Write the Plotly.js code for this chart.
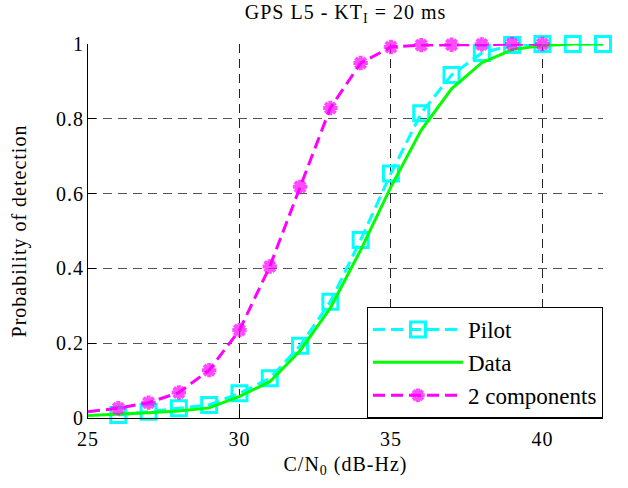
<!DOCTYPE html>
<html>
<head>
<meta charset="utf-8">
<script src="https://cdn.plot.ly/plotly-3.0.1.min.js"></script>
<style>
html,body{margin:0;padding:0;background:#fff}
#chart{width:628px;height:488px}
#chart svg text, #chart svg tspan{font-family:"Liberation Serif" !important}
#chart svg text:not(.legendtext){letter-spacing:1px}
</style>
</head>
<body>
<div id="chart"></div>
<script>
// C/N0 values (dB-Hz)
const xPilot = [26,27,28,29,30,31,32,33,34,35,36,37,38,39,40,41,42];
const pilot  = [0.008,0.017,0.026,0.035,0.066,0.106,0.193,0.311,0.476,0.654,0.815,0.917,0.976,0.997,1,1,1];

const xData = [25,26,27,28,29,30,31,32,33,34,35,36,37,38,39,40,41,42];
const dataComp = [0.007,0.010,0.014,0.019,0.027,0.058,0.097,0.180,0.294,0.449,0.618,0.770,0.880,0.950,0.985,0.996,1,1];

const xBoth = [25,26,27,28,29,30,31,32,33,34,35,36,37,38,39,40];
const both  = [0.017,0.026,0.041,0.068,0.128,0.235,0.405,0.618,0.829,0.949,0.992,0.997,0.998,0.999,1,1];

const seriesNames = ['Pilot','Data','2 components'];
const xTicks = [25,30,35,40];
const yTicks = [0,0.2,0.4,0.6,0.8,1];

const FONT = 'Liberation Serif';
const FS = 20;

const traces = [
  {
    x: xPilot, y: pilot, name: seriesNames[0], legendgroup: 'g1', type: 'scatter', mode: 'lines+markers',
    line: {color: '#00ffff', width: 3, dash: '12px,6px'},
    marker: {symbol: 'square-open', size: 15, color: '#00ffff', line: {color: '#00ffff', width: 3}},
    cliponaxis: false
  },
  {
    x: xData, y: dataComp, name: seriesNames[1], legendgroup: 'g2', type: 'scatter', mode: 'lines',
    line: {color: '#00ff00', width: 3},
    cliponaxis: false
  },
  {
    x: xBoth, y: both, name: seriesNames[2], legendgroup: 'g3', type: 'scatter', mode: 'lines+markers',
    line: {color: '#ff00ff', width: 3, dash: '12px,6px'},
    marker: {symbol: 'asterisk-open', size: xBoth.map((v,i)=> i===0 ? 0 : 12), color: '#ff00ff', line: {color: '#ff00ff', width: 4}},
    cliponaxis: false
  }
];

const layout = {
  width: 628, height: 488,
  margin: {l: 88, r: 25, t: 44, b: 70},
  paper_bgcolor: '#ffffff', plot_bgcolor: '#ffffff',
  font: {family: FONT, size: FS, color: '#000'},
  showlegend: true,
  title: {
    text: 'GPS L5 - KT<sub>I</sub> = 20 ms',
    font: {family: FONT, size: FS, color: '#000'},
    xref: 'paper', x: 0.5, xanchor: 'center',
    yref: 'container', y: 0.975, yanchor: 'middle'
  },
  xaxis: {
    range: [25, 42],
    tickvals: xTicks, ticktext: xTicks.map(String),
    ticks: 'inside', ticklen: 8, tickcolor: '#000', tickwidth: 1,
    ticklabelstandoff: 3,
    showline: true, linecolor: '#000', linewidth: 1, mirror: false,
    showgrid: true, gridcolor: '#222', gridwidth: 1, griddash: '9px,6px',
    zeroline: false,
    tickfont: {family: FONT, size: FS, color: '#000'},
    title: {text: 'C/N<sub>0</sub> (dB-Hz)', font: {family: FONT, size: FS, color: '#000'}, standoff: 7}
  },
  yaxis: {
    range: [0, 1],
    tickvals: yTicks, ticktext: yTicks.map(v => String(v)),
    ticks: 'inside', ticklen: 8, tickcolor: '#000', tickwidth: 1,
    ticklabelstandoff: -1,
    showline: true, linecolor: '#000', linewidth: 1, mirror: false,
    showgrid: true, gridcolor: '#555', gridwidth: 1, griddash: '9px,6px',
    zeroline: false,
    tickfont: {family: FONT, size: FS, color: '#000'},
    title: {text: 'Probability of detection', font: {family: FONT, size: FS, color: '#000'}, standoff: 27}
  },
  legend: {
    x: 1, xanchor: 'right', y: 0, yanchor: 'bottom',
    xref: 'paper', yref: 'paper',
    bgcolor: '#ffffff', bordercolor: '#000', borderwidth: 1,
    font: {family: FONT, size: 23, color: '#000'},
    itemwidth: 90,
    tracegroupgap: 0,
    traceorder: 'grouped'
  }
};

Plotly.newPlot('chart', traces, layout, {displayModeBar: false, staticPlot: true});
</script>
</body>
</html>
